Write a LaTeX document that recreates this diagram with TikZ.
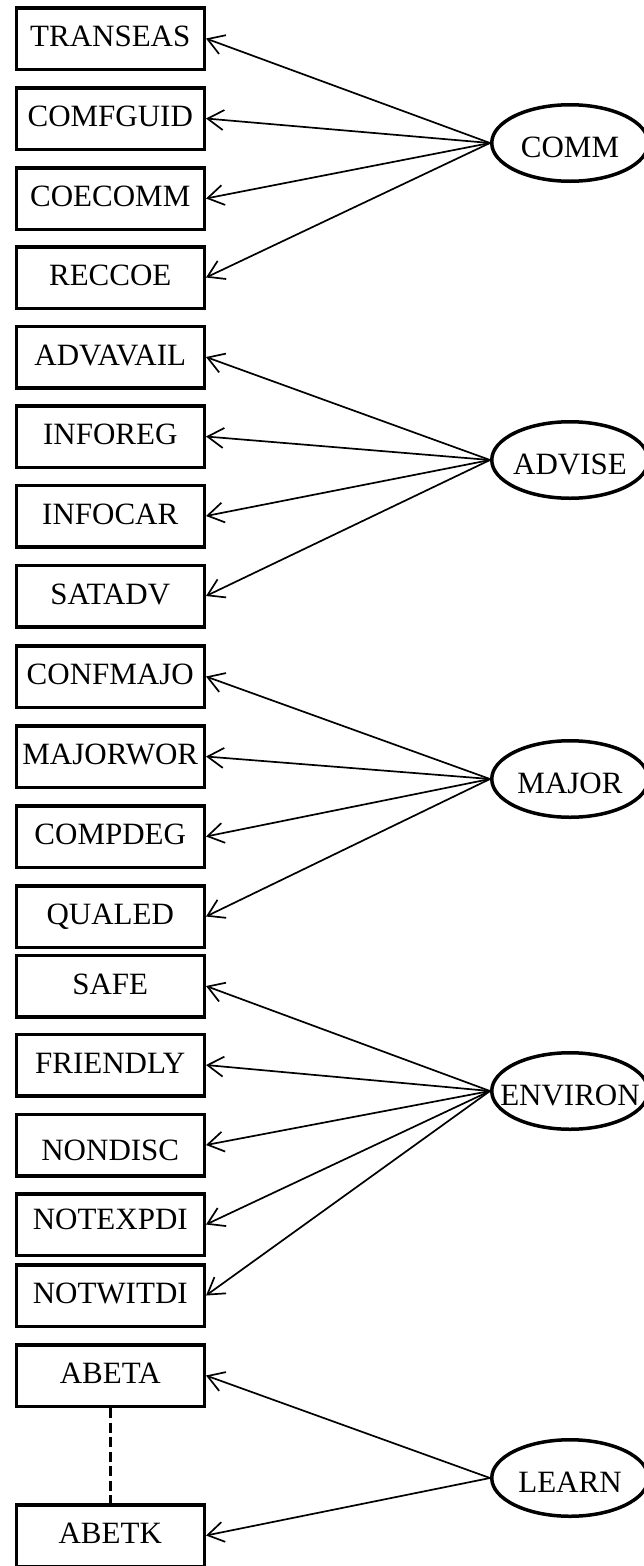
\documentclass[tikz,border=0pt]{standalone}
\usepackage{fontspec}
\setmainfont{Liberation Serif}
\usetikzlibrary{arrows.meta,shapes.geometric}
\begin{document}
\begin{tikzpicture}[x=1pt,y=-1pt,
  item/.style={draw, line width=3.5pt, minimum width=188pt, minimum height=61.5pt,
    inner sep=0pt, font=\fontsize{31}{36}\selectfont, text height=16.4pt, text depth=0pt},
  factor/.style={draw, ellipse, line width=3.5pt, minimum width=156.5pt, minimum height=76.5pt,
    inner sep=0pt, font=\fontsize{31}{36}\selectfont, text height=28.4pt, text depth=0pt},
  load/.style={line width=1.7pt, -{Straight Barb[length=16pt,width=20pt]}},
  link/.style={line width=3.5pt, dash pattern=on 10pt off 4.5pt},
]
\useasboundingbox (0,0) rectangle (643,1566);

% observed indicators
\node[item] (transeas) at (110.25,38.5)  {TRANSEAS};
\node[item] (comfguid) at (110.25,118.5) {COMFGUID};
\node[item] (coecomm)  at (110.25,198.5) {COECOMM};
\node[item] (reccoe)   at (110.25,277.5) {RECCOE};
\node[item] (advavail) at (110.25,357)   {ADVAVAIL};
\node[item] (inforeg)  at (110.25,436.5) {INFOREG};
\node[item] (infocar)  at (110.25,516)   {INFOCAR};
\node[item] (satadv)   at (110.25,596)   {SATADV};
\node[item] (confmajo) at (110.25,676.5) {CONFMAJO};
\node[item] (majorwor) at (110.25,756.5) {MAJORWOR};
\node[item] (compdeg)  at (110.25,836.5) {COMPDEG};
\node[item] (qualed)   at (110.25,916.5) {QUALED};
\node[item] (safe)     at (110.25,986)   {SAFE};
\node[item] (friendly) at (110.25,1065)  {FRIENDLY};
\node[item, text height=30.4pt] (nondisc)  at (110.25,1145)   {NONDISC};
\node[item, text height=9.4pt]  (notexpdi) at (110.25,1224.5) {NOTEXPDI};
\node[item] (notwitdi) at (110.25,1295.5) {NOTWITDI};
\node[item] (abeta)    at (110.25,1375.5) {ABETA};
\node[item] (abetk)    at (110.25,1535.5) {ABETK};

% latent factors
\node[factor] (comm)    at (570,143)  {\makebox[0pt]{COMM}};
\node[factor] (advise)  at (570,460)  {\makebox[0pt]{ADVISE}};
\node[factor] (major)   at (570,779)  {\makebox[0pt]{MAJOR}};
\node[factor] (environ) at (570,1091) {\makebox[0pt]{ENVIRON}};
\node[factor] (learn)   at (570,1478) {\makebox[0pt]{LEARN}};

% loadings
\foreach \f/\i in {comm/transeas, comm/comfguid, comm/coecomm, comm/reccoe,
                   advise/advavail, advise/inforeg, advise/infocar, advise/satadv,
                   major/confmajo, major/majorwor, major/compdeg, major/qualed,
                   environ/safe, environ/friendly, environ/nondisc, environ/notexpdi, environ/notwitdi,
                   learn/abeta, learn/abetk}
  \draw[load] (\f.west) -- (\i.east);

% correlated indicators
\draw[link] (abeta.south) -- (abetk.north);
\end{tikzpicture}
\end{document}
